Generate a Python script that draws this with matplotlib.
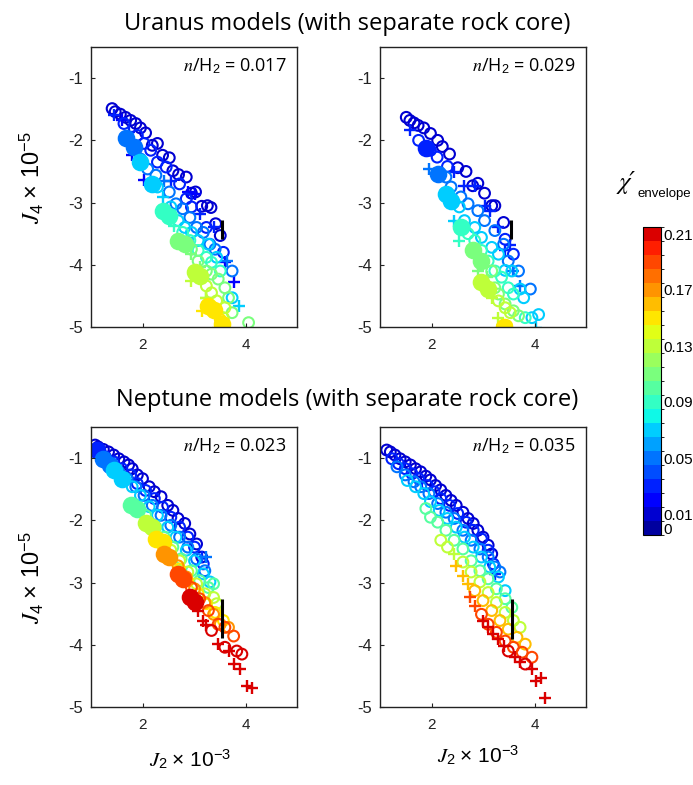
import numpy as np
import matplotlib
matplotlib.use("Agg")
import matplotlib.pyplot as plt
from matplotlib.colors import BoundaryNorm, ListedColormap

plt.rcParams["font.family"] = ["Liberation Sans", "DejaVu Sans"]
plt.rcParams["axes.unicode_minus"] = False
plt.rcParams["mathtext.fontset"] = "custom"
plt.rcParams["mathtext.it"] = "STIXGeneral:italic"
plt.rcParams["mathtext.rm"] = "Liberation Sans"
plt.rcParams["mathtext.sf"] = "Liberation Sans"

# Uranus, n/H2 = 0.017  (one line per chi track; mk: o open, + plus, f filled)
ul_j2 = [1.41, 1.47, 1.57, 1.67, 1.77, 1.87, 1.96, 2.06, 2.19, 2.29, 2.39, 2.52, 2.59, 2.70, 2.85, 2.95, 3.03, 3.15, 3.26, 3.33, 3.42, 3.51,
         1.44, 1.64, 1.73, 1.90, 2.03, 2.16, 2.29, 2.46, 2.55, 2.72, 2.85, 2.95, 3.11, 3.24, 3.38, 3.57,
         1.60, 1.80, 2.03, 2.88, 3.01, 3.60, 3.77,
         1.67, 1.83, 1.96, 2.10, 2.26, 2.42, 2.52, 2.65, 2.78, 2.92, 3.05, 3.18, 3.31, 3.41, 3.64, 3.74,
         1.96, 2.19, 2.29, 2.39, 2.55, 2.69, 2.82, 2.95, 3.08, 3.28, 3.44, 3.74, 3.87,
         2.39, 2.52, 2.62, 2.78, 2.92, 3.08, 3.24, 3.34, 3.51,
         2.69, 2.82, 2.95, 3.08, 3.24, 3.34, 3.47, 3.60, 3.67, 3.74, 4.06, 2.95, 3.11, 3.24,
         3.01, 3.11, 2.95, 3.24, 3.34, 3.44, 3.60, 3.57, 3.24,
         3.28, 3.38, 3.15, 3.51, 3.54, 3.47]
ul_j4 = [-1.49, -1.54, -1.58, -1.63, -1.68, -1.73, -1.80, -1.88, -2.08, -2.05, -2.24, -2.28, -2.49, -2.55, -2.59, -2.85, -2.83, -3.06, -3.05, -3.08, -3.34, -3.53,
         -1.60, -1.73, -1.87, -1.92, -2.05, -2.16, -2.35, -2.43, -2.65, -2.70, -2.94, -3.07, -3.18, -3.40, -3.40, -3.80,
         -1.68, -2.24, -2.64, -2.83, -2.86, -3.95, -4.28,
         -1.97, -2.11, -2.30, -2.46, -2.56, -2.65, -2.83, -3.02, -3.10, -3.24, -3.40, -3.48, -3.67, -3.75, -3.94, -4.10,
         -2.35, -2.70, -2.75, -2.91, -3.07, -3.29, -3.40, -3.48, -3.61, -3.67, -3.88, -4.53, -4.66,
         -3.13, -3.21, -3.37, -3.48, -3.61, -3.77, -3.88, -3.96, -4.10,
         -3.61, -3.67, -3.75, -3.94, -4.10, -4.15, -4.23, -4.37, -4.53, -4.77, -4.93, -3.83, -4.03, -4.53,
         -4.12, -4.18, -4.26, -4.34, -4.45, -4.58, -4.69, -4.85, -4.53,
         -4.66, -4.72, -4.74, -4.88, -4.95, -5.01]
ul_chi = [0.01] * 22 + [0.03] * 16 + [0.02] * 7 + [0.05] * 16 + [0.07] * 13 + [0.09] * 9 \
    + [0.11] * 14 + [0.13] * 9 + [0.15] * 6
ul_mk = "o" * 22 + "+o+ooooo+ooo+o+o" + "+" * 7 + "ffooo+oooooooo+o" + "ffo+oooooooo+" \
    + "ff+oooooo" + "ffooooooooo+++" + "ff+ooooo+" + "ff+of+"

# Uranus, n/H2 = 0.029
ur_j2 = [1.51, 1.58, 1.66, 1.74, 1.85, 1.98, 2.12, 2.21, 2.35, 2.51, 2.67, 2.80, 2.90, 3.03, 3.17, 3.23, 3.40,
         1.59, 1.75, 1.89, 1.98, 2.11, 2.31, 2.44, 2.64, 2.84, 3.03, 3.13, 3.30, 3.43, 3.53, 3.59, 3.43,
         1.95, 2.12, 2.28, 2.38, 2.57, 2.71, 2.90, 3.03, 3.23, 3.40, 3.49, 3.59, 3.72, 3.69, 3.92,
         2.28, 2.38, 2.54, 2.44, 2.64, 2.84, 2.97, 3.17, 3.30, 3.43, 3.56, 3.72, 3.79, 3.95, 4.08, 4.02,
         2.57, 2.71, 2.54, 2.84, 2.97, 3.10, 3.23, 3.36, 3.49, 3.59, 3.82,
         2.81, 2.97, 3.07, 3.17, 3.23, 3.30, 3.43, 3.59, 3.69, 2.90,
         2.97, 3.10, 3.17, 3.30, 3.43, 3.53, 3.30, 3.36,
         3.46, 3.40]
ur_j4 = [-1.63, -1.68, -1.72, -1.76, -1.80, -1.89, -2.00, -2.10, -2.22, -2.44, -2.50, -2.73, -2.69, -2.85, -3.05, -3.05, -3.32,
         -1.83, -2.00, -2.13, -2.16, -2.27, -2.42, -2.51, -2.74, -2.73, -3.05, -3.13, -3.40, -3.59, -3.69, -3.83, -3.77,
         -2.46, -2.54, -2.59, -2.75, -2.91, -3.02, -3.13, -3.29, -3.45, -3.67, -3.94, -4.10, -4.34, -4.10, -4.39,
         -2.86, -2.97, -3.07, -3.29, -3.29, -3.40, -3.56, -3.72, -3.83, -4.09, -4.10, -4.39, -4.53, -4.85, -4.80, -5.01,
         -3.40, -3.50, -3.61, -3.61, -3.77, -3.94, -4.10, -4.20, -4.37, -4.47, -4.85,
         -3.77, -3.94, -4.20, -4.10, -4.37, -4.47, -4.63, -4.74, -4.82, -4.10,
         -4.28, -4.39, -4.53, -4.58, -4.69, -4.77, -4.85, -4.96,
         -4.98, -5.00]
ur_chi = [0.01] * 17 + [0.03] * 16 + [0.05] * 15 + [0.07] * 16 + [0.09] * 11 + [0.11] * 10 \
    + [0.13] * 8 + [0.15] * 2
ur_mk = "o" * 17 + "+ofooo++++++o+o+" + "+fooooooooo++oo" + "ffo+" + "o" * 11 + "+" \
    + "fo+oooooooo" + "ff+oooooo+" + "ff+ooo++" + "of"

# Neptune, n/H2 = 0.023
nl_j2 = [1.08, 1.14, 1.24, 1.34, 1.44, 1.54, 1.64, 1.73, 1.80, 1.90, 2.00, 2.13, 2.23, 2.36, 2.49, 2.59, 2.69, 2.82, 2.92, 3.05, 3.15,
         1.11, 1.28, 1.44, 1.60, 1.77, 1.90, 2.06, 2.23, 2.39, 2.55, 2.72, 2.88, 3.01, 3.15, 3.18,
         1.24, 1.37, 1.54, 1.70, 1.87, 2.03, 2.19, 2.36, 2.55, 2.72, 2.88, 3.05, 3.21, 3.24,
         1.44, 1.60, 1.80, 1.96, 2.13, 2.29, 2.49, 2.65, 2.85, 3.01, 3.18, 3.31,
         1.77, 1.90, 2.06, 2.26, 2.42, 2.59, 2.75, 2.95, 3.11, 3.28, 3.38,
         2.06, 2.19, 2.39, 2.55, 2.72, 2.88, 3.05, 3.21, 3.38, 3.44,
         2.26, 2.39, 2.55, 2.72, 2.88, 3.08, 3.24, 3.41, 3.57,
         2.42, 2.52, 2.69, 2.85, 3.01, 3.21, 3.38, 3.51, 3.67,
         2.69, 2.78, 2.95, 3.11, 3.28, 3.47, 3.60, 3.77,
         2.92, 3.01, 3.08, 3.18, 3.24, 3.34, 3.47, 3.60, 3.83, 3.93, 3.67, 3.77, 3.90, 4.03, 4.13]
nl_j4 = [-0.79, -0.82, -0.86, -0.90, -0.95, -1.01, -1.06, -1.11, -1.17, -1.27, -1.33, -1.46, -1.54, -1.62, -1.76, -1.84, -1.97, -2.05, -2.22, -2.38, -2.59,
         -0.87, -0.98, -1.06, -1.17, -1.27, -1.41, -1.52, -1.65, -1.79, -1.95, -2.11, -2.27, -2.43, -2.59, -2.70,
         -1.01, -1.11, -1.22, -1.33, -1.46, -1.60, -1.76, -1.92, -2.08, -2.27, -2.43, -2.62, -2.81, -2.59,
         -1.19, -1.33, -1.46, -1.60, -1.78, -1.92, -2.11, -2.27, -2.48, -2.65, -2.86, -2.99,
         -1.76, -1.81, -1.92, -2.11, -2.27, -2.43, -2.62, -2.81, -2.97, -3.08, -3.02,
         -2.05, -2.11, -2.32, -2.48, -2.65, -2.83, -3.02, -3.18, -3.24, -3.34,
         -2.30, -2.35, -2.59, -2.78, -2.97, -3.18, -3.34, -3.48, -3.61,
         -2.54, -2.59, -2.73, -2.91, -3.10, -3.32, -3.51, -3.67, -3.72,
         -2.86, -2.94, -3.08, -3.26, -3.45, -3.67, -3.72, -3.86,
         -3.24, -3.32, -3.45, -3.61, -3.69, -3.77, -3.99, -4.04, -4.10, -4.15, -4.10, -4.31, -4.39, -4.66, -4.69]
nl_chi = [0.01] * 21 + [0.03] * 15 + [0.05] * 14 + [0.07] * 12 + [0.10] * 11 + [0.13] * 10 \
    + [0.15] * 9 + [0.17] * 9 + [0.19] * 8 + [0.21] * 15
nl_mk = "o" * 21 + "f" + "o" * 12 + "+o" + "ff" + "o" * 11 + "+" + "ff" + "o" * 10 \
    + "ff" + "o" * 9 + "ff" + "o" * 8 + "ff" + "o" * 7 + "ff" + "o" * 7 + "ff" + "o" * 6 \
    + "ff+++o+ooo+++++"

# Neptune, n/H2 = 0.035
nr_j2 = [1.13, 1.20, 1.29, 1.39, 1.49, 1.59, 1.69, 1.79, 1.89, 1.98, 2.08, 2.18, 2.28, 2.38, 2.48, 2.61, 2.71, 2.81, 2.90, 3.00, 3.10, 3.17,
         1.23, 1.36, 1.49, 1.62, 1.75, 1.92, 2.05, 2.18, 2.35, 2.51, 2.67, 2.81, 2.97, 3.10, 3.20, 3.23,
         1.33, 1.49, 1.66, 1.79, 1.95, 2.12, 2.28, 2.44, 2.61, 2.77, 2.94, 3.10, 3.23, 3.33,
         1.53, 1.69, 1.85, 1.98, 2.15, 2.31, 2.48, 2.64, 2.81, 2.97, 3.13, 3.30, 3.43,
         1.89, 1.98, 2.12, 2.28, 2.44, 2.61, 2.77, 2.94, 3.10, 3.26, 3.43, 3.56,
         2.18, 2.31, 2.44, 2.61, 2.77, 2.94, 3.10, 3.26, 3.43, 3.59, 3.72,
         2.48, 2.61, 2.71, 2.84, 3.00, 3.17, 3.33, 3.49, 3.66, 3.82,
         2.74, 2.84, 2.97, 3.10, 3.26, 3.43, 3.59, 3.76, 3.95,
         3.00, 3.10, 3.20, 3.30, 3.40, 3.49, 3.62, 3.72, 3.82, 3.95, 4.02, 4.12, 4.21]
nr_j4 = [-0.87, -0.90, -0.95, -1.01, -1.06, -1.11, -1.17, -1.22, -1.29, -1.35, -1.44, -1.51, -1.60, -1.68, -1.76, -1.87, -1.97, -2.05, -2.16, -2.27, -2.40, -2.54,
         -1.01, -1.09, -1.17, -1.25, -1.33, -1.44, -1.54, -1.65, -1.76, -1.89, -2.03, -2.16, -2.30, -2.48, -2.70, -2.86,
         -1.14, -1.27, -1.38, -1.46, -1.57, -1.73, -1.87, -1.97, -2.16, -2.32, -2.46, -2.59, -2.75, -2.83,
         -1.36, -1.46, -1.57, -1.70, -1.84, -1.97, -2.11, -2.27, -2.43, -2.59, -2.75, -2.91, -3.13,
         -1.81, -1.95, -2.03, -2.16, -2.32, -2.46, -2.65, -2.81, -2.94, -3.10, -3.26, -3.40,
         -2.32, -2.43, -2.54, -2.67, -2.83, -2.99, -3.16, -3.32, -3.48, -3.61, -3.72,
         -2.73, -2.89, -3.02, -3.13, -3.29, -3.45, -3.61, -3.75, -3.88, -3.99,
         -3.24, -3.37, -3.51, -3.67, -3.80, -3.94, -4.04, -4.12, -4.20,
         -3.61, -3.72, -3.83, -3.91, -4.02, -4.10, -4.20, -4.28, -4.31, -4.39, -4.58, -4.53, -4.85]
nr_chi = [0.01] * 22 + [0.03] * 16 + [0.05] * 14 + [0.07] * 13 + [0.10] * 12 + [0.13] * 11 \
    + [0.16] * 10 + [0.19] * 9 + [0.21] * 13
nr_mk = "o" * 22 + "o" * 15 + "+" + "o" * 14 + "o" * 13 + "o" * 12 + "oo+oooooooo" \
    + "+++" + "o" * 7 + "++" + "o" * 7 + "+++++o++o++++"

panels = [
    (ul_j2, ul_j4, ul_chi, ul_mk, "0.017"),
    (ur_j2, ur_j4, ur_chi, ur_mk, "0.029"),
    (nl_j2, nl_j4, nl_chi, nl_mk, "0.023"),
    (nr_j2, nr_j4, nr_chi, nr_mk, "0.035"),
]
obs_j2 = [3.54, 3.55, 3.55, 3.56]
obs_j4_lo = [-3.58, -3.58, -3.89, -3.90]
obs_j4_hi = [-3.28, -3.28, -3.27, -3.27]

cbar_ticks = [0, 0.01, 0.05, 0.09, 0.13, 0.17, 0.21]
bounds = np.arange(-0.005, 0.2151, 0.01)
n_lev = len(bounds) - 1
cmap = ListedColormap(plt.cm.jet(np.linspace(0.03, 0.92, n_lev)))
norm = BoundaryNorm(bounds, n_lev)

fig = plt.figure(figsize=(6.93, 7.85), dpi=100)
W, H = 693, 785
boxes = [(91, 47), (380, 47), (91, 427), (380, 427)]
axes = []
for (x0, y0), (j2, j4, chi, mk, nh) in zip(boxes, panels):
    ax = fig.add_axes([x0 / W, 1 - (y0 + 280) / H, 206 / W, 280 / H])
    axes.append(ax)
    j2 = np.array(j2)
    j4 = np.array(j4)
    chi = np.array(chi)
    mk = np.array(list(mk))
    for c in np.unique(chi):
        sel = chi == c
        col = cmap(norm(c))
        o = sel & (mk == "o")
        p = sel & (mk == "+")
        f = sel & (mk == "f")
        ax.scatter(j2[o], j4[o], s=60, facecolors="none", edgecolors=[col], linewidths=1.5)
        ax.scatter(j2[p], j4[p], s=85, marker="+", color=[col], linewidths=1.7)
        ax.scatter(j2[f], j4[f], s=125, color=[col], edgecolors=[col], linewidths=1.5)
    ax.set_xlim(1, 5)
    ax.set_ylim(-5, -0.5)
    ax.set_xticks([2, 4])
    ax.set_yticks([-5, -4, -3, -2, -1])
    ax.tick_params(direction="in", length=3, top=False, right=False, colors="#222222")
    ax.tick_params(axis="y", labelsize=12, pad=6)
    ax.tick_params(axis="x", labelsize=11, pad=8)
    for sp in ax.spines.values():
        sp.set_linewidth(1.0)
        sp.set_color("#222222")
    ax.text(0.95, 0.93, r"$n$/H$_2$ = " + nh, transform=ax.transAxes,
            ha="right", va="center", fontsize=13, family="Open Sans")

for ax, x, lo, hi in zip(axes, obs_j2, obs_j4_lo, obs_j4_hi):
    ax.plot([x, x], [lo, hi], color="black", lw=2.2, solid_capstyle="butt", zorder=5)

fig.text(347 / W, 1 - 24 / H, "Uranus models (with separate rock core)",
         ha="center", va="center", fontsize=17, family="Open Sans")
fig.text(347 / W, 1 - 400 / H, "Neptune models (with separate rock core)",
         ha="center", va="center", fontsize=17, family="Open Sans")

for yc in (178, 578):
    fig.text(32 / W, 1 - yc / H, r"$J_4$" + "\u2009\u00d7 10" + r"$^{-5}$",
             rotation=90, ha="center", va="center", fontsize=17)
for xc, yc in ((190, 760), (478, 756)):
    fig.text(xc / W, 1 - yc / H, r"$J_2$" + "\u2009\u00d7 10" + r"$^{-3}$",
             ha="center", va="center", fontsize=15)

cax = fig.add_axes([643 / W, 1 - 535 / H, 18 / W, 308 / H])
sm = plt.cm.ScalarMappable(norm=norm, cmap=cmap)
cb = fig.colorbar(sm, cax=cax, ticks=cbar_ticks)
cb.ax.set_yticklabels([f"{t:g}" for t in cbar_ticks])
cb.ax.tick_params(length=0, labelsize=11, pad=2)
cb.outline.set_linewidth(0.8)
fig.text(619 / W, 1 - 182 / H, "\u03c7\u2032", ha="left", va="center", fontsize=18,
         family=["STIXGeneral", "DejaVu Serif"], style="italic")
fig.text(637 / W, 1 - 194 / H, "envelope", ha="left", va="center", fontsize=9.5)

fig.savefig("out.png", dpi=100)
